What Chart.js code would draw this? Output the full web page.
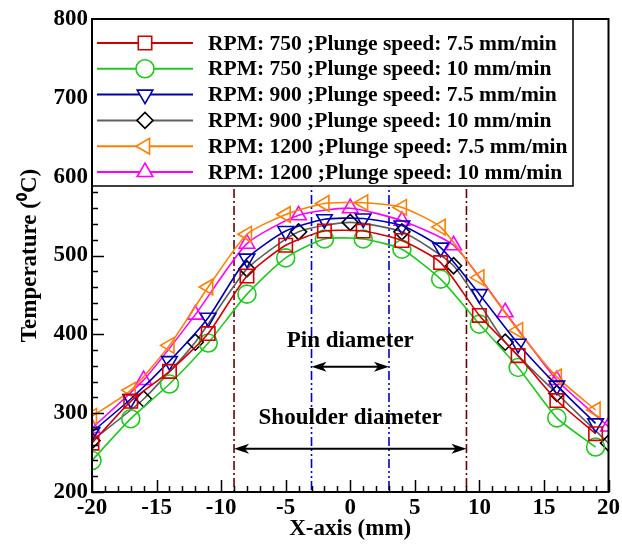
<!DOCTYPE html>
<html>
<head>
<meta charset="utf-8">
<script src="https://cdn.jsdelivr.net/npm/chart.js@4"></script>
<style>
html, body { margin: 0; padding: 0; background: #fff; }
#c { display: block; }
</style>
</head>
<body>
<canvas id="c" width="622" height="546"></canvas>
<script>
// Positions along the weld line (mm)
const xStep3 = [-20, -17, -14, -11, -8, -5, -2, 1, 4, 7, 10, 13, 16, 19];
const xStep4 = [-20, -16, -12, -8, -4, 0, 4, 8, 12, 16, 20];

// Temperatures (°C)
const rpm750_75 = [262, 315, 353, 401, 474, 513, 531, 531, 519, 491, 424, 373, 316, 274];
const rpm750_10 = [240, 293, 337, 389, 451, 497, 521, 521, 508, 470, 413, 358, 294, 257];
const rpm900_75 = [276, 318, 366, 421, 496, 531, 546, 547, 538, 510, 451, 388, 335, 287];
const rpm900_10 = [265, 318, 390, 483, 530, 542, 530, 487, 390, 325, 262];
const rpm1200_75 = [296, 329, 386, 460, 527, 552, 566, 567, 561, 536, 472, 405, 346, 304];
const rpm1200_10 = [281, 342, 425, 515, 551, 560, 544, 513, 428, 342, 283];

const seriesLabels = [
    'RPM: 750 ;Plunge speed: 7.5 mm/min',
    'RPM: 750 ;Plunge speed: 10 mm/min',
    'RPM: 900 ;Plunge speed: 7.5 mm/min',
    'RPM: 900 ;Plunge speed: 10 mm/min',
    'RPM: 1200 ;Plunge speed: 7.5 mm/min',
    'RPM: 1200 ;Plunge speed: 10 mm/min'
];

// Tool geometry (mm)
const pinEdges = [-3, 3];
const shoulderEdges = [-9, 9];

const serif = "'Liberation Serif', 'Times New Roman', serif";

function pts(xs, ys) {
    return xs.map((v, i) => ({ x: v, y: ys[i] }));
}

function makeSet(label, xs, ys, line, mark, style, radius, rotation) {
    return {
        label: label,
        data: pts(xs, ys),
        borderColor: line,
        borderWidth: 1.6,
        pointStyle: style,
        pointRadius: radius,
        pointRotation: rotation,
        pointBorderColor: mark,
        pointBackgroundColor: 'rgba(0,0,0,0)',
        pointBorderWidth: 1.6,
        tension: 0.2,
        fill: false
    };
}

const datasets = [
    makeSet(seriesLabels[0], xStep3, rpm750_75, '#d00000', '#d00000', 'rect', 9.5, 0),
    makeSet(seriesLabels[1], xStep3, rpm750_10, '#20c820', '#20c820', 'circle', 9, 0),
    makeSet(seriesLabels[2], xStep3, rpm900_75, '#0000b0', '#0000b0', 'triangle', 9, 180),
    makeSet(seriesLabels[3], xStep4, rpm900_10, '#606060', '#000000', 'rectRot', 8, 0),
    makeSet(seriesLabels[4], xStep3, rpm1200_75, '#ff8000', '#ff8000', 'triangle', 9, -90),
    makeSet(seriesLabels[5], xStep4, rpm1200_10, '#ff00ff', '#ff00ff', 'triangle', 9, 0)
];

function arrowHead(ctx, x, y, dir) {
    ctx.beginPath();
    ctx.moveTo(x, y);
    ctx.lineTo(x - dir * 15, y - 5);
    ctx.lineTo(x - dir * 11, y);
    ctx.lineTo(x - dir * 15, y + 5);
    ctx.closePath();
    ctx.fill();
}

function dimArrow(ctx, x1, x2, y) {
    ctx.beginPath();
    ctx.moveTo(x1 + 8, y);
    ctx.lineTo(x2 - 8, y);
    ctx.stroke();
    arrowHead(ctx, x1, y, -1);
    arrowHead(ctx, x2, y, 1);
}

// Reference lines, dimension arrows and their labels
const toolNotes = {
    id: 'toolNotes',
    beforeDatasetsDraw(chart) {
        const { ctx, chartArea: a, scales: { x, y } } = chart;
        ctx.save();
        ctx.lineWidth = 1.6;
        shoulderEdges.forEach(v => {
            const px = x.getPixelForValue(v);
            ctx.strokeStyle = '#6a0000';
            ctx.setLineDash([9, 3, 2, 3]);
            ctx.beginPath();
            ctx.moveTo(px, a.top);
            ctx.lineTo(px, a.bottom);
            ctx.stroke();
        });
        pinEdges.forEach(v => {
            const px = x.getPixelForValue(v);
            ctx.strokeStyle = '#0000c8';
            ctx.setLineDash([9, 3, 2, 3, 2, 3]);
            ctx.beginPath();
            ctx.moveTo(px, a.top);
            ctx.lineTo(px, a.bottom);
            ctx.stroke();
        });
        ctx.setLineDash([]);
        ctx.strokeStyle = '#000';
        ctx.fillStyle = '#000';
        ctx.lineWidth = 2;
        dimArrow(ctx, x.getPixelForValue(pinEdges[0]), x.getPixelForValue(pinEdges[1]), y.getPixelForValue(359));
        dimArrow(ctx, x.getPixelForValue(shoulderEdges[0]), x.getPixelForValue(shoulderEdges[1]), y.getPixelForValue(255));
        ctx.font = 'bold 23px ' + serif;
        ctx.textAlign = 'center';
        ctx.textBaseline = 'middle';
        ctx.fillText('Pin diameter', x.getPixelForValue(0), y.getPixelForValue(392));
        ctx.fillText('Shoulder diameter', x.getPixelForValue(0), y.getPixelForValue(294));
        ctx.restore();
    },
    afterDraw(chart) {
        const { ctx, chartArea: a, scales: { x, y } } = chart;
        ctx.save();
        // inward ticks
        ctx.strokeStyle = '#000';
        ctx.lineWidth = 1.5;
        ctx.beginPath();
        for (let v = -20; v <= 20; v++) {
            const px = Math.round(x.getPixelForValue(v)) + 0.5;
            const len = v % 5 === 0 ? 12 : 6;
            ctx.moveTo(px, a.bottom);
            ctx.lineTo(px, a.bottom - len);
        }
        for (let v = 200; v <= 800; v += 20) {
            const py = Math.round(y.getPixelForValue(v)) + 0.5;
            const len = v % 100 === 0 ? 12 : 6;
            ctx.moveTo(a.left, py);
            ctx.lineTo(a.left + len, py);
        }
        ctx.stroke();

        // legend box in the upper left corner
        const rowH = 25.8;
        const boxW = 481, boxH = 167;
        ctx.fillStyle = '#fff';
        ctx.fillRect(a.left, a.top, boxW, boxH);
        ctx.lineWidth = 1.5;
        ctx.strokeRect(a.left, a.top, boxW, boxH);
        ctx.font = 'bold 21.5px ' + serif;
        ctx.textAlign = 'left';
        ctx.textBaseline = 'middle';
        chart.data.datasets.forEach((ds, i) => {
            const ry = a.top + 24 + i * rowH;
            ctx.strokeStyle = ds.borderColor;
            ctx.lineWidth = 2;
            ctx.beginPath();
            ctx.moveTo(a.left + 5, ry);
            ctx.lineTo(a.left + 101, ry);
            ctx.stroke();
            const opts = {
                pointStyle: ds.pointStyle,
                radius: ds.pointRadius,
                rotation: ds.pointRotation,
                borderWidth: 1.6
            };
            ctx.fillStyle = '#fff';
            ctx.strokeStyle = ds.pointBorderColor;
            ctx.lineWidth = 1.6;
            Chart.helpers.drawPoint(ctx, opts, a.left + 53, ry);
            ctx.fillStyle = '#000';
            ctx.fillText(ds.label, a.left + 116, ry + 1);
        });

        // plot frame
        ctx.strokeStyle = '#000';
        ctx.lineWidth = 2;
        ctx.strokeRect(a.left, a.top, a.right - a.left, a.bottom - a.top);
        ctx.restore();
    }
};

new Chart(document.getElementById('c'), {
    type: 'line',
    data: { datasets: datasets },
    options: {
        responsive: false,
        animation: false,
        devicePixelRatio: 1,
        layout: { padding: { left: 16, right: 13, top: 19, bottom: 3 } },
        plugins: {
            legend: { display: false },
            tooltip: { enabled: false }
        },
        scales: {
            x: {
                type: 'linear',
                min: -20,
                max: 20,
                grid: { display: false, drawTicks: false },
                border: { display: false },
                ticks: {
                    stepSize: 5,
                    padding: 2,
                    color: '#000',
                    font: { family: serif, size: 23, weight: 'bold' }
                },
                title: {
                    display: true,
                    text: 'X-axis (mm)',
                    color: '#000',
                    padding: { top: 0, bottom: 0 },
                    font: { family: serif, size: 23, weight: 'bold' }
                },
                afterFit(scale) { scale.height = 51; }
            },
            y: {
                min: 200,
                max: 800,
                grid: { display: false, drawTicks: false },
                border: { display: false },
                ticks: {
                    stepSize: 100,
                    padding: 4,
                    color: '#000',
                    font: { family: serif, size: 23, weight: 'bold' }
                },
                title: {
                    display: true,
                    text: 'Temperature (\u2070C)',
                    color: '#000',
                    padding: { top: 0, bottom: 6 },
                    font: { family: serif, size: 23, weight: 'bold' }
                },
                afterFit(scale) { scale.width = 76; }
            }
        }
    },
    plugins: [toolNotes]
});
</script>
</body>
</html>
